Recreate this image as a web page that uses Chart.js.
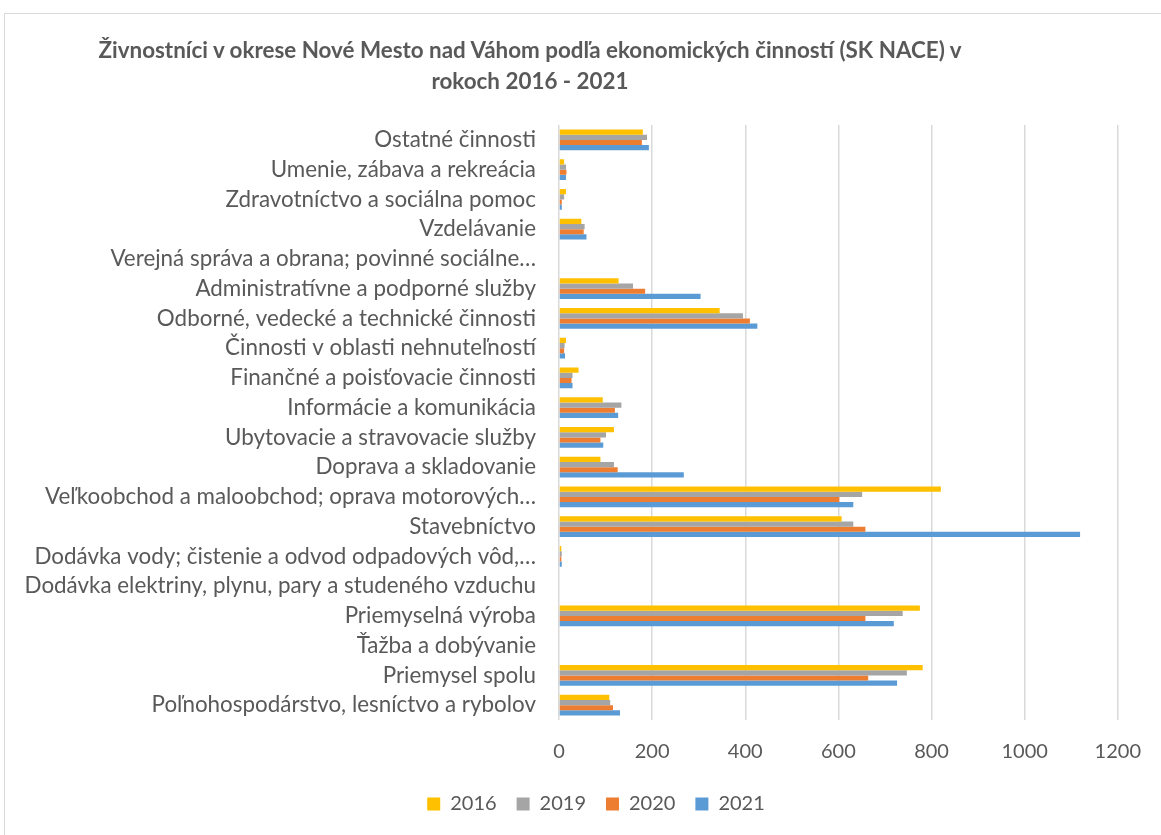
<!DOCTYPE html>
<html>
<head>
<meta charset="utf-8">
<script src="https://cdn.jsdelivr.net/npm/chart.js@4"></script>
<style>
  body { margin: 0; background: #fff; }
  #frame {
    position: absolute; left: 4px; top: 13px; width: 1200px; height: 900px;
    border: 1px solid #d9d9d9; box-sizing: border-box;
  }
  #title {
    position: absolute; left: 30px; width: 1000px; top: 34px;
    text-align: center; font-family: Lato, sans-serif; font-weight: bold;
    font-size: 22.4px; line-height: 31px; color: #595959;
  }
  #wrap { position: absolute; left: 0; top: 0; width: 1161px; height: 835px; }
</style>
</head>
<body>
<div id="frame"></div>
<div id="wrap"><canvas id="barChart"></canvas></div>
<div id="title">Živnostníci v okrese Nové Mesto nad Váhom podľa ekonomických činností (SK NACE) v<br>rokoch 2016 - 2021</div>
<script>
// categories listed top to bottom as they appear in the chart
const categories = [
    'Ostatné činnosti',
    'Umenie, zábava a rekreácia',
    'Zdravotníctvo a sociálna pomoc',
    'Vzdelávanie',
    'Verejná správa a obrana; povinné sociálne…',
    'Administratívne a podporné služby',
    'Odborné, vedecké a technické činnosti',
    'Činnosti v oblasti nehnuteľností',
    'Finančné a poisťovacie činnosti',
    'Informácie a komunikácia',
    'Ubytovacie a stravovacie služby',
    'Doprava a skladovanie',
    'Veľkoobchod a maloobchod; oprava motorových…',
    'Stavebníctvo',
    'Dodávka vody; čistenie a odvod odpadových vôd,…',
    'Dodávka elektriny, plynu, pary a studeného vzduchu',
    'Priemyselná výroba',
    'Ťažba a dobývanie',
    'Priemysel spolu',
    'Poľnohospodárstvo, lesníctvo a rybolov'
];

const y2016 = [180, 11, 15, 48, 0, 128, 345, 15, 42, 94, 118, 89, 820, 607, 5, 0, 775, 0, 781, 108];
const y2019 = [189, 15, 11, 55, 0, 159, 395, 12, 29, 134, 101, 118, 651, 632, 6, 0, 738, 0, 747, 110];
const y2020 = [178, 16, 6, 53, 0, 185, 410, 11, 27, 120, 89, 126, 602, 658, 5, 0, 658, 0, 664, 116];
const y2021 = [193, 15, 6, 59, 0, 304, 426, 13, 29, 127, 95, 268, 632, 1119, 6, 0, 719, 0, 726, 131];

const xTicks = [0, 200, 400, 600, 800, 1000, 1200];

const textColor = '#595959';
const font = 'Lato, sans-serif';

// legend sits a bit right of the canvas centre in the original
const shiftLegend = {
    id: 'shiftLegend',
    afterLayout(chart) {
        chart.legend.left += 36;
        chart.legend.right += 36;
    }
};

const ctx = document.getElementById('barChart').getContext('2d');

new Chart(ctx, {
    type: 'bar',
    data: {
        labels: categories,
        datasets: [
            { label: '2016', data: y2016, backgroundColor: '#FFC000' },
            { label: '2019', data: y2019, backgroundColor: '#A5A5A5' },
            { label: '2020', data: y2020, backgroundColor: '#ED7D31' },
            { label: '2021', data: y2021, backgroundColor: '#5B9BD5' }
        ]
    },
    options: {
        indexAxis: 'y',
        responsive: true,
        maintainAspectRatio: false,
        animation: false,
        categoryPercentage: 0.7,
        barPercentage: 1.0,
        layout: { padding: { top: 125, right: 41, bottom: 11, left: 0 } },
        plugins: {
            title: { display: false },
            tooltip: { enabled: false },
            legend: {
                position: 'bottom',
                labels: {
                    color: textColor,
                    font: { family: font, size: 20 },
                    boxWidth: 13,
                    boxHeight: 13,
                    padding: 20
                }
            }
        },
        scales: {
            x: {
                min: 0,
                max: 1200,
                afterBuildTicks: (axis) => { axis.ticks = xTicks.map(v => ({ value: v })); },
                grid: { color: '#d9d9d9', lineWidth: 1.5, drawTicks: false },
                border: { display: false },
                ticks: {
                    color: textColor,
                    font: { family: font, size: 20 },
                    padding: 20,
                    callback: (v) => String(v)
                },
                afterFit: (scale) => { scale.height = 54; }
            },
            y: {
                grid: { display: false, drawTicks: false },
                border: { display: false },
                ticks: {
                    color: textColor,
                    font: { family: font, size: 22.4 },
                    padding: 23,
                    autoSkip: false
                },
                afterFit: (scale) => { scale.width = 559; }
            }
        }
    },
    plugins: [shiftLegend]
});
</script>
</body>
</html>
